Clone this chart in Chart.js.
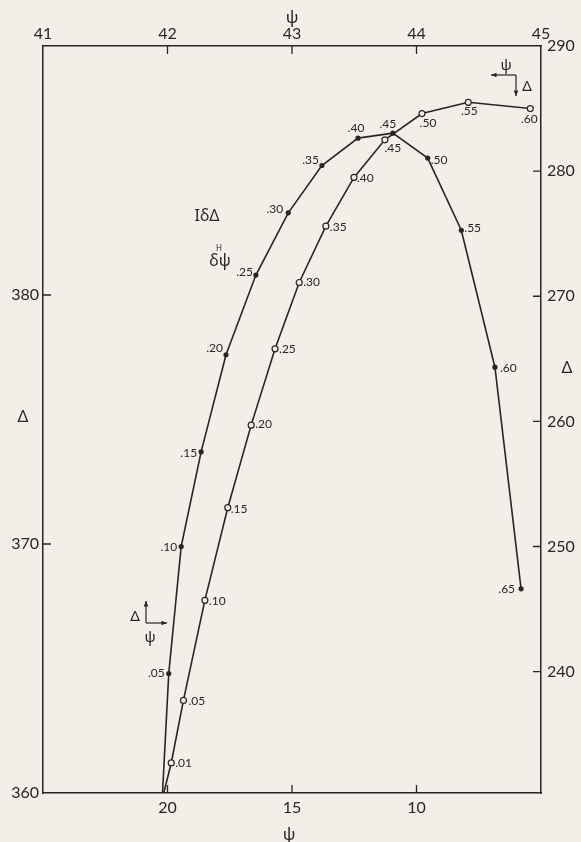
<!DOCTYPE html>
<html>
<head>
<meta charset="utf-8">
<title>Δ – ψ</title>
<script src="https://cdn.jsdelivr.net/npm/chart.js@4.4.0/dist/chart.umd.min.js"></script>
<style>
  html, body { margin: 0; padding: 0; background: #f1efe8; }
  #wrap { width: 581px; height: 842px; }
</style>
</head>
<body>
<div id="wrap"><canvas id="myChart" width="581" height="842"></canvas></div>
<script>
// curve with filled dots: psi read on the top scale, delta on the left scale
var psiFilled    = [41.96, 42.01, 42.11, 42.27, 42.47, 42.71, 42.97, 43.24, 43.53, 43.81, 44.09, 44.36, 44.63, 44.84];
var deltaFilled  = [360.0, 364.8, 369.9, 373.7, 377.6, 380.8, 383.3, 385.2, 386.3, 386.5, 385.5, 382.6, 377.1, 368.2];
var labelsFilled = ['', '.05', '.10', '.15', '.20', '.25', '.30', '.35', '.40', '.45', '.50', '.55', '.60', '.65'];

// curve with open circles: psi read on the bottom scale, delta on the right scale
var psiOpen    = [20.15, 19.85, 19.36, 18.50, 17.58, 16.64, 15.68, 14.71, 13.64, 12.51, 11.27, 9.78, 7.92, 5.43];
var deltaOpen  = [230.3, 232.7, 237.7, 245.7, 253.1, 259.7, 265.8, 271.1, 275.6, 279.5, 282.5, 284.6, 285.5, 285.0];
var labelsOpen = ['', '.01', '.05', '.10', '.15', '.20', '.25', '.30', '.35', '.40', '.45', '.50', '.55', '.60'];

var topTicks    = [41, 42, 43, 44, 45];
var bottomTicks = [20, 15, 10];
var leftTicks   = [360, 370, 380];
var rightTicks  = [240, 250, 260, 270, 280, 290];

const INK = '#2b2424';
const PAPER = '#f1efe8';
const TICK_FONT = { family: "Lato, 'Noto Sans', sans-serif", size: 16 };

// where each point label sits relative to its marker: [dx, dy, align]
var filledPlace = [null, [-4, 0, 'right'], [-4, 1, 'right'], [-4, 1, 'right'], [-3, -7, 'right'], [-3, -3, 'right'],
  [-5, -4, 'right'], [-3, -5, 'right'], [-2, -10, 'center'], [-5, -9, 'center'], [3, 2, 'left'], [3, -2, 'left'],
  [5, 1, 'left'], [-6, 0, 'right']];
var openPlace = [null, [4, 0, 'left'], [5, 1, 'left'], [4, 1, 'left'], [3, 1, 'left'], [4, -1, 'left'], [4, 0, 'left'],
  [4, 0, 'left'], [4, 1, 'left'], [3, 1, 'left'], [8, 8, 'center'], [6, 10, 'center'], [1, 9, 'center'], [-1, 11, 'center']];

function toPoints(xs, ys) {
  return xs.map(function(v, i) { return { x: v, y: ys[i] }; });
}

function fixedTicks(values) {
  return function(scale) {
    scale.ticks = values.map(function(v) { return { value: v }; });
  };
}

function radii(labels, r) {
  return labels.map(function(l) { return l === '' ? 0 : r; });
}

function arrow(ctx, x1, y1, x2, y2) {
  var a = Math.atan2(y2 - y1, x2 - x1);
  ctx.beginPath();
  ctx.moveTo(x1, y1);
  ctx.lineTo(x2, y2);
  ctx.stroke();
  ctx.beginPath();
  ctx.moveTo(x2, y2);
  ctx.lineTo(x2 - 6 * Math.cos(a - 0.4), y2 - 6 * Math.sin(a - 0.4));
  ctx.lineTo(x2 - 6 * Math.cos(a + 0.4), y2 - 6 * Math.sin(a + 0.4));
  ctx.closePath();
  ctx.fill();
}

// inward tick marks on all four sides
var tickMarks = {
  id: 'tickMarks',
  afterDraw: function(chart) {
    var ctx = chart.ctx, a = chart.chartArea, s = chart.scales, L = 8;
    ctx.save();
    ctx.strokeStyle = INK;
    ctx.lineWidth = 1.3;
    ctx.beginPath();
    [42, 43, 44].forEach(function(v) {
      var x = s.x2.getPixelForValue(v);
      ctx.moveTo(x, a.top); ctx.lineTo(x, a.top + L);
    });
    bottomTicks.forEach(function(v) {
      var x = s.x.getPixelForValue(v);
      ctx.moveTo(x, a.bottom); ctx.lineTo(x, a.bottom - L);
    });
    [370, 380].forEach(function(v) {
      var y = s.y.getPixelForValue(v);
      ctx.moveTo(a.left, y); ctx.lineTo(a.left + L, y);
    });
    [240, 250, 260, 270, 280].forEach(function(v) {
      var y = s.y2.getPixelForValue(v);
      ctx.moveTo(a.right, y); ctx.lineTo(a.right - L, y);
    });
    ctx.stroke();
    ctx.restore();
  }
};

// point labels, curve names, axis symbols and direction keys
var annotations = {
  id: 'annotations',
  afterDatasetsDraw: function(chart) {
    var ctx = chart.ctx;
    ctx.save();
    ctx.fillStyle = INK;
    ctx.strokeStyle = INK;
    ctx.textBaseline = 'middle';
    ctx.font = "12px Lato, 'Noto Sans', sans-serif";

    [[0, labelsFilled, filledPlace], [1, labelsOpen, openPlace]].forEach(function(set) {
      var pts = chart.getDatasetMeta(set[0]).data;
      set[1].forEach(function(txt, i) {
        if (!txt) return;
        var p = set[2][i];
        ctx.textAlign = p[2];
        ctx.fillText(txt, pts[i].x + p[0], pts[i].y + p[1]);
      });
    });

    ctx.textAlign = 'center';
    ctx.font = "17px 'Noto Sans', sans-serif";
    ctx.fillText('ψ', 292, 18);
    ctx.fillText('ψ', 289, 835);
    ctx.fillText('Δ', 23, 417);
    ctx.fillText('Δ', 567, 368);

    // curve names
    ctx.font = "16px 'Noto Sans', sans-serif";
    ctx.fillText('IδΔ', 207, 216);
    ctx.fillText('δψ', 220, 261);
    ctx.font = "8px 'Noto Sans', sans-serif";
    ctx.fillText('H', 219, 249);

    // direction keys
    ctx.lineWidth = 1.2;
    ctx.font = "15px 'Noto Sans', sans-serif";
    ctx.fillText('Δ', 135, 617);
    ctx.fillText('ψ', 150, 638);
    arrow(ctx, 146, 623, 146, 601);
    arrow(ctx, 146, 623, 167, 623);

    ctx.fillText('ψ', 506, 66);
    ctx.fillText('Δ', 527, 87);
    arrow(ctx, 516, 75, 491, 75);
    arrow(ctx, 516, 75, 516, 96);
    ctx.restore();
  }
};

var ctx = document.getElementById('myChart').getContext('2d');
var myChart = new Chart(ctx, {
  type: 'line',
  data: {
    datasets: [{
      data: toPoints(psiFilled, deltaFilled),
      xAxisID: 'x2',
      yAxisID: 'y',
      borderColor: INK,
      borderWidth: 1.6,
      pointRadius: radii(labelsFilled, 2.6),
      pointBackgroundColor: INK,
      pointBorderWidth: 0,
      tension: 0,
      clip: false
    }, {
      data: toPoints(psiOpen, deltaOpen),
      xAxisID: 'x',
      yAxisID: 'y2',
      borderColor: INK,
      borderWidth: 1.6,
      pointRadius: radii(labelsOpen, 3),
      pointBackgroundColor: PAPER,
      pointBorderColor: INK,
      pointBorderWidth: 1.2,
      tension: 0,
      clip: false
    }]
  },
  options: {
    responsive: false,
    animation: false,
    devicePixelRatio: 1,
    layout: { padding: 0 },
    plugins: { legend: { display: false }, tooltip: { enabled: false } },
    scales: {
      x: {
        type: 'linear', position: 'bottom', reverse: true, min: 5, max: 25,
        grid: { display: false, drawTicks: false },
        border: { color: INK, width: 1.5 },
        ticks: { color: INK, font: TICK_FONT, padding: 5, autoSkip: false, maxRotation: 0 },
        afterBuildTicks: fixedTicks(bottomTicks),
        afterFit: function(s) { s.height = 49; }
      },
      x2: {
        type: 'linear', position: 'top', min: 41, max: 45,
        grid: { display: false, drawTicks: false },
        border: { color: INK, width: 1.5 },
        ticks: { color: INK, font: TICK_FONT, padding: 3, autoSkip: false, maxRotation: 0 },
        afterBuildTicks: fixedTicks(topTicks),
        afterFit: function(s) { s.height = 46; }
      },
      y: {
        type: 'linear', position: 'left', min: 360, max: 390,
        grid: { display: false, drawTicks: false },
        border: { color: INK, width: 1.5 },
        ticks: { color: INK, font: TICK_FONT, padding: 4, autoSkip: false },
        afterBuildTicks: fixedTicks(leftTicks),
        afterFit: function(s) { s.width = 43; }
      },
      y2: {
        type: 'linear', position: 'right', min: 230.3, max: 290,
        grid: { display: false, drawTicks: false },
        border: { color: INK, width: 1.5 },
        ticks: { color: INK, font: TICK_FONT, padding: 6, autoSkip: false },
        afterBuildTicks: fixedTicks(rightTicks),
        afterFit: function(s) { s.width = 40; }
      }
    }
  },
  plugins: [tickMarks, annotations]
});
</script>
</body>
</html>
